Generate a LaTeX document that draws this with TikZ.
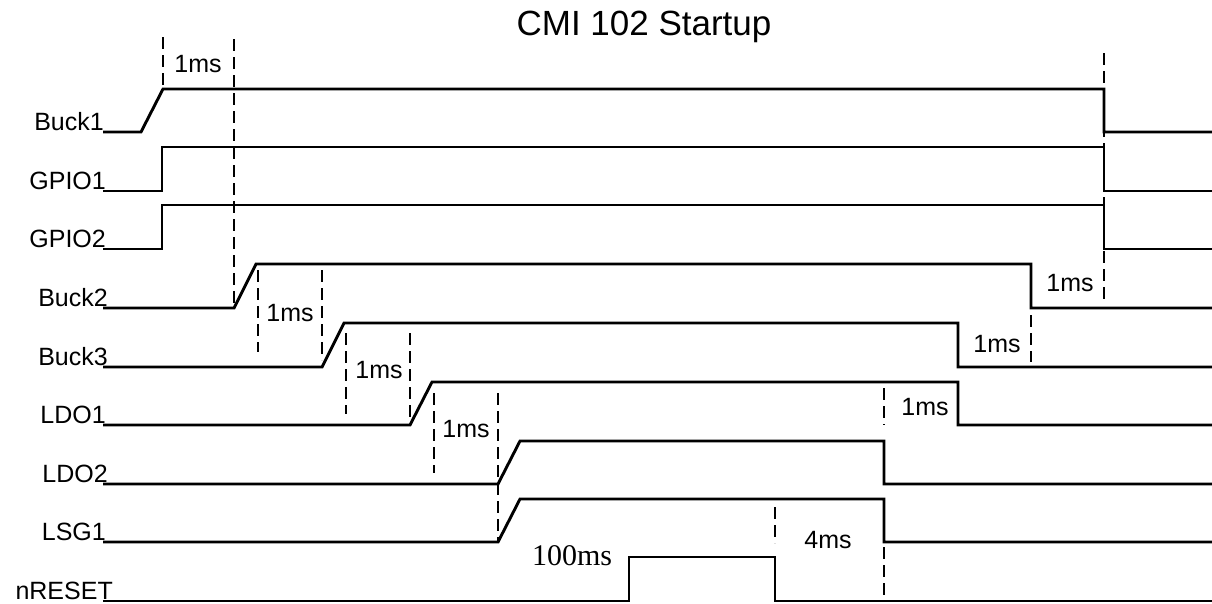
\documentclass[tikz,border=0pt]{standalone}
\usepackage{fontspec}
\setmainfont{Liberation Sans}
\newfontfamily\serifface{Liberation Serif}
\begin{document}
\begin{tikzpicture}[x=1pt,y=-1pt,
  sig/.style={line width=2.9pt,line join=miter},
  guide/.style={line width=1.4pt,dash pattern=on 12pt off 6pt},
  lab/.style={anchor=base east,inner sep=0pt,font=\fontsize{25}{30}\selectfont},
  ms/.style={anchor=base,inner sep=0pt,font=\fontsize{25}{30}\selectfont},
  ttl/.style={anchor=base,inner sep=0pt,font=\fontsize{35}{42}\selectfont}]
\useasboundingbox (0,0) rectangle (1212,603);
% title
\node[ttl] (title) at (644,35) {CMI 102 Startup};
% signal names
\node[lab] (nBuckA)  at (104,130) {Buck1};
\node[lab] (nGPIOA)  at (106,189) {GPIO1};
\node[lab] (nGPIOB)  at (106,247) {GPIO2};
\node[lab] (nBuckB)  at (108,306) {Buck2};
\node[lab] (nBuckC)  at (108,365) {Buck3};
\node[lab] (nLDOA)   at (106,423) {LDO1};
\node[lab] (nLDOB)   at (108,482) {LDO2};
\node[lab] (nLSGA)   at (106,540) {LSG1};
\node[lab] (nRST)    at (113,599) {nRESET};
% guide lines
\draw[guide] (163,37) -- (163,89);
\draw[guide] (234,39) -- (234,308);
\draw[guide] (1104,53) -- (1104,303);
\draw[guide] (258,270) -- (258,352);
\draw[guide] (322,270) -- (322,360);
\draw[guide] (346,333) -- (346,414);
\draw[guide] (410,333) -- (410,420);
\draw[guide] (434,393) -- (434,473);
\draw[guide] (498,393) -- (498,542);
\draw[guide] (775,507) -- (775,543);
\draw[guide] (884,547) -- (884,598);
\draw[guide] (884,388) -- (884,425);
\draw[guide] (1031,315) -- (1031,362);
% waveforms
\draw[sig] (103,132) -- (141,132) -- (163,89) -- (1104,89) -- (1104,132) -- (1212,132);
\draw[sig] (103,191) -- (162,191) -- (162,147) -- (1104,147) -- (1104,191) -- (1212,191);
\draw[sig] (103,249) -- (162,249) -- (162,205) -- (1104,205) -- (1104,249) -- (1212,249);
\draw[sig] (103,308) -- (234,308) -- (256,264) -- (1031,264) -- (1031,308) -- (1212,308);
\draw[sig] (103,367) -- (322,367) -- (344,323) -- (958,323) -- (958,367) -- (1212,367);
\draw[sig] (103,425) -- (410,425) -- (432,382) -- (958,382) -- (958,425) -- (1212,425);
\draw[sig] (103,484) -- (498,484) -- (520,441) -- (884,441) -- (884,484) -- (1212,484);
\draw[sig] (103,542) -- (498,542) -- (520,499) -- (884,499) -- (884,542) -- (1212,542);
\draw[sig] (103,601) -- (629,601) -- (629,557) -- (775,557) -- (775,601) -- (1212,601);
% timing labels
\node[ms] (tA) at (198,72) {1ms};
\node[ms] (tB) at (290,321) {1ms};
\node[ms] (tC) at (379,378) {1ms};
\node[ms] (tD) at (466,437) {1ms};
\node[ms] (tE) at (925,415) {1ms};
\node[ms] (tF) at (997,352) {1ms};
\node[ms] (tG) at (1070,291) {1ms};
\node[ms] (tH) at (828,548) {4ms};
\node[anchor=base,inner sep=0pt,font=\serifface\fontsize{30}{36}\selectfont] (tI) at (572,565) {100ms};
\end{tikzpicture}
\end{document}
